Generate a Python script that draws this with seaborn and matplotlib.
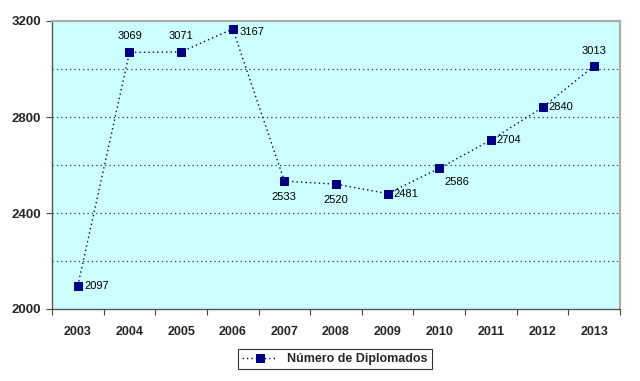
import matplotlib
matplotlib.use("Agg")
import matplotlib.pyplot as plt
import seaborn as sns
import pandas as pd
import numpy as np
from matplotlib.ticker import FixedLocator

years = ["2003", "2004", "2005", "2006", "2007", "2008", "2009", "2010", "2011", "2012", "2013"]
values = [2097, 3069, 3071, 3167, 2533, 2520, 2481, 2586, 2704, 2840, 3013]
series_name = "Número de Diplomados"
# label placement per point: (dx, dy, ha, va) in points
label_pos = [(4.5, 0, "left", "center"), (0, 8, "center", "bottom"), (0, 8, "center", "bottom"),
             (5, -2, "left", "center"), (0, -8, "center", "top"), (0, -8, "center", "top"),
             (4, 0, "left", "center"), (4, -6, "left", "top"), (4, 0, "left", "center"),
             (4, 0, "left", "center"), (0, 7, "center", "bottom")]

sns.set_style("white")
plt.rcParams['font.family'] = ['Liberation Sans', 'DejaVu Sans']

df = pd.DataFrame({"year": years, "value": values, "series": series_name})

fig = plt.figure(figsize=(6.4, 3.81), dpi=100)
ax = fig.add_axes([52/640, 1-309/381, (620-52)/640, (309-21)/381])
ax.set_facecolor("#CCFFFF")

sns.lineplot(data=df, x="year", y="value", hue="series", palette=["#000080"], ax=ax,
             linestyle=(0, (1, 2.2)), linewidth=1.0, marker="s", markersize=6,
             markeredgecolor="#000080", sort=False)

for i, (v, (dx, dy, ha, va)) in enumerate(zip(values, label_pos)):
    ax.annotate(str(v), (i, v), xytext=(dx, dy), textcoords="offset points",
                ha=ha, va=va, fontsize=8, color="black")

ax.set_xlim(-0.5, len(years) - 0.5)
ax.set_ylim(2000, 3200)
ax.yaxis.set_major_locator(FixedLocator([2000, 2400, 2800, 3200]))
for g in [2200, 2400, 2600, 2800, 3000]:
    ax.axhline(g, color="#333333", linestyle=(0, (1, 2.5)), linewidth=0.9, zorder=0.5)

ax.set_xticks(range(len(years)))
ax.set_xticklabels(years)
ax.xaxis.set_minor_locator(FixedLocator(np.arange(-0.5, len(years), 1.0)))
ax.tick_params(axis="x", which="major", length=0, pad=12, labelsize=9)
ax.tick_params(axis="x", which="minor", length=4, width=0.8, color="#444444", direction="out", bottom=True)
ax.tick_params(axis="y", which="major", length=4, width=0.8, color="#444444", direction="out", left=True, labelsize=9.5, pad=4)
for lab in ax.get_xticklabels() + ax.get_yticklabels():
    lab.set_fontweight("bold")

ax.set_xlabel("")
ax.set_ylabel("")
for s in ["left", "bottom"]:
    ax.spines[s].set_color("#555555")
    ax.spines[s].set_linewidth(1.0)
for s in ["top", "right"]:
    ax.spines[s].set_color("#AAAAAA")
    ax.spines[s].set_linewidth(1.5)

ax.get_legend().remove()
handles, labels = ax.get_legend_handles_labels()
leg = fig.legend(handles, labels, loc="center", bbox_to_anchor=(335/640, 1-359/381),
                 frameon=True, fancybox=False, edgecolor="black",
                 handlelength=2.8, borderpad=0.35, prop={"weight": "bold", "size": 9})
leg.get_frame().set_linewidth(0.8)

fig.savefig("out.png", dpi=100)
